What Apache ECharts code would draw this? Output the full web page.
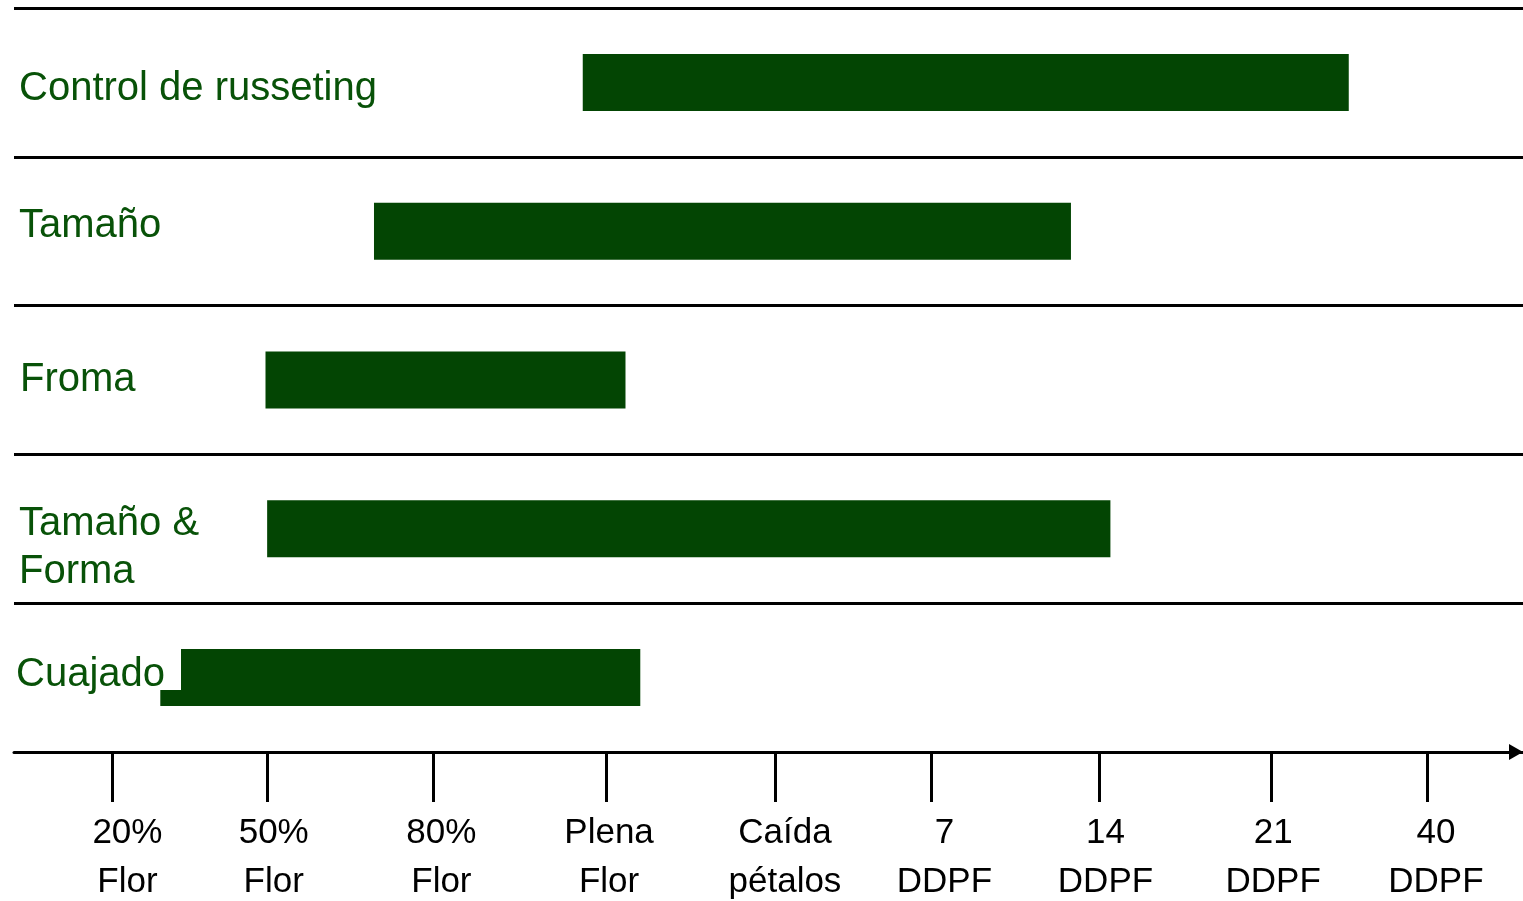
<!DOCTYPE html>
<html>
<head>
<meta charset="utf-8">
<script src="https://cdn.jsdelivr.net/npm/echarts@6/dist/echarts.min.js"></script>
<style>
html, body { margin: 0; padding: 0; background: #fff; }
#chart { width: 1523px; height: 901px; }
</style>
</head>
<body>
<div id="chart"></div>
<script>
// eje x: etapas fenologicas (1 = 20% Flor ... 9 = 40 DDPF)
const stageLabels = ['20%\nFlor', '50%\nFlor', '80%\nFlor', 'Plena\nFlor', 'Caída\npétalos', '7\nDDPF', '14\nDDPF', '21\nDDPF', '40\nDDPF']
const tickPos = [1, 1.94, 2.95, 4, 5.03, 5.98, 7, 8.05, 9]
const labelPos = [1.09, 1.98, 3.0, 4.02, 5.09, 6.06, 7.04, 8.06, 9.05]

// tareas y su ventana de aplicacion (en etapas)
const tasks = ['Control de russeting', 'Tamaño', 'Froma', 'Tamaño &\nForma', 'Cuajado']
const taskStart = [3.86, 2.59, 1.93, 1.94, 1.29]
const taskEnd = [8.52, 6.83, 4.12, 7.07, 4.21]

const duration = taskEnd.map((e, i) => +(e - taskStart[i]).toFixed(2))

const textGreen = '#085208'
const barGreen = '#034503'

let option = {
  animation: false,
  grid: { left: 14, right: 0, top: 8, bottom: 149, outerBoundsMode: 'none', containLabel: false },
  xAxis: {
    type: 'value',
    min: 0.4,
    max: 9.58,
    splitLine: { show: false },
    axisLine: {
      show: true,
      symbol: ['none', 'triangle'],
      symbolSize: [16, 14],
      symbolOffset: [0, -7],
      lineStyle: { color: '#000', width: 3 }
    },
    axisTick: {
      show: true,
      customValues: tickPos,
      length: 50,
      lineStyle: { color: '#000', width: 3 }
    },
    axisLabel: {
      customValues: labelPos,
      margin: 57,
      color: '#000',
      fontSize: 35,
      lineHeight: 49,
      fontFamily: '"Liberation Sans Narrow", "Liberation Sans", Arial, sans-serif',
      formatter: function (value) {
        let best = 0
        labelPos.forEach((p, i) => {
          if (Math.abs(p - value) < Math.abs(labelPos[best] - value)) best = i
        })
        return stageLabels[best]
      }
    }
  },
  yAxis: {
    type: 'category',
    data: tasks,
    inverse: true,
    z: 10,
    axisLine: { show: false },
    axisTick: { show: false },
    splitLine: { show: true, lineStyle: { color: '#000', width: 3 } },
    axisLabel: {
      inside: true,
      margin: 0,
      color: textGreen,
      fontSize: 40,
      fontFamily: '"Liberation Sans", Arial, sans-serif',
      formatter: function (value) {
        if (value === 'Control de russeting') return '{r0|' + value + '}'
        if (value === 'Tamaño') return '{r1|' + value + '}'
        if (value === 'Froma') return '{r2|' + value + '}'
        if (value === 'Cuajado') return '{cj|' + value + '}{sp| }'
        return '{gap| }\n{r3|Tamaño &}\n{r3|Forma}'
      },
      rich: {
        r0: { color: textGreen, fontSize: 40, padding: [14, 0, 0, 5] },
        r1: { color: textGreen, fontSize: 40, padding: [0, 0, 10, 5] },
        r2: { color: textGreen, fontSize: 40, padding: [0, 0, 1, 6] },
        r3: { color: textGreen, fontSize: 40, lineHeight: 48, padding: [0, 0, 0, 5] },
        gap: { fontSize: 1, height: 38, lineHeight: 38 },
        cj: {
          color: textGreen, fontSize: 40, height: 30, lineHeight: 30,
          padding: [11, 16, 0, 2], backgroundColor: '#fff', verticalAlign: 'top'
        },
        sp: { fontSize: 1, height: 57, lineHeight: 57 }
      }
    }
  },
  series: [
    {
      type: 'bar',
      stack: 'win',
      data: taskStart,
      itemStyle: { color: 'transparent' },
      barWidth: 57,
      silent: true
    },
    {
      type: 'bar',
      stack: 'win',
      data: duration,
      itemStyle: { color: barGreen },
      barWidth: 57
    }
  ]
}

var myChart = echarts.init(document.getElementById('chart'))
myChart.setOption(option)
</script>
</body>
</html>
